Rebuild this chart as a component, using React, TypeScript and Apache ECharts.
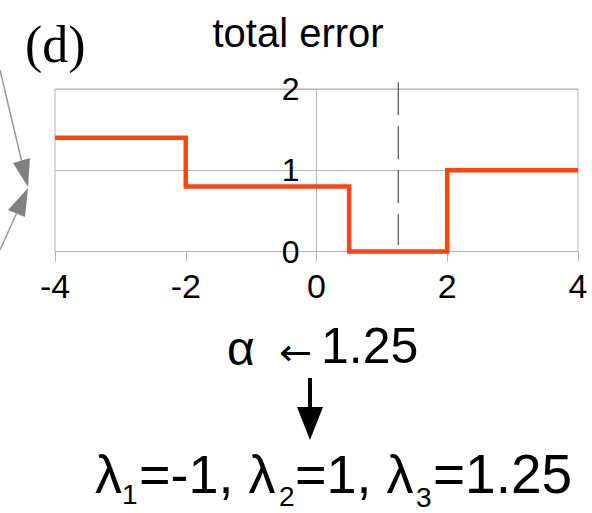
import { useEffect, useRef } from "react";
import * as echarts from "echarts";

// Piecewise-constant total error as a function of alpha
const breakpoints = [-4, -2, 0.5, 2, 4];
const errorLevels = [1.4, 0.8, 0, 1, 1];
const alphaRange = [-4, 4];
const errorRange = [0, 2];
const chosenAlpha = 1.25;
const lambdas = [-1, 1, 1.25];
const chartTitle = "total error";
const panelTag = "(d)";

const SANS = "'Liberation Sans', Arial, sans-serif";
const SERIF = "'Liberation Serif', 'Times New Roman', serif";
const ARROW_FONT = "'DejaVu Sans', sans-serif";
const AXIS_GRAY = "#b4b4b4";

const GRID_LEFT = 55;
const GRID_TOP = 89;
const GRID_W = 523;
const GRID_H = 162.5;

function txt(text: string, x: number, y: number, size: number, family = SANS, align = "left", scaleX = 1) {
  return {
    type: "text",
    x,
    y,
    scaleX,
    silent: true,
    style: {
      text,
      fontSize: size,
      fontFamily: family,
      fill: "#000",
      align,
      textAlign: align,
      verticalAlign: "middle",
      textVerticalAlign: "middle",
    },
  };
}

export default function App() {
  const ref = useRef<HTMLDivElement>(null);

  useEffect(() => {
    const chart = echarts.init(ref.current!, null, { renderer: "svg" });
    const stepData = breakpoints.map((x, i) => [x, errorLevels[i]]);
    // shift the y axis (line and labels) inward so it sits at alpha = 0
    const yAxisOffset = -((0 - alphaRange[0]) / (alphaRange[1] - alphaRange[0])) * GRID_W;

    const graphics: any[] = [
      txt(panelTag, 25, 44.5, 52, SERIF),
      txt(chartTitle, 298, 33, 40, SANS, "center"),
      // incoming gray arrows on the left
      { type: "line", silent: true, shape: { x1: 0, y1: 70, x2: 21.5, y2: 160.5 }, style: { stroke: "#9a9a9a", lineWidth: 1.5 } },
      { type: "polygon", silent: true, shape: { points: [[13, 163], [30, 158], [28, 187]] }, style: { fill: "#808080" } },
      { type: "line", silent: true, shape: { x1: 0, y1: 250, x2: 16.5, y2: 213.5 }, style: { stroke: "#9a9a9a", lineWidth: 1.5 } },
      { type: "polygon", silent: true, shape: { points: [[8, 210], [25, 217], [28, 188]] }, style: { fill: "#808080" } },
      // assignment of alpha
      txt("α", 227, 348, 48),
      txt("←", 279, 353, 36, ARROW_FONT, "left", 1.1),
      txt(String(chosenAlpha), 321, 346, 50),
      // down arrow
      { type: "line", silent: true, shape: { x1: 310, y1: 378, x2: 310, y2: 410 }, style: { stroke: "#000", lineWidth: 4 } },
      { type: "polygon", silent: true, shape: { points: [[297, 407], [323, 407], [310, 440]] }, style: { fill: "#000" } },
      // resulting lambdas
      txt("λ", 95, 474, 54),
      txt("1", 122, 494.5, 28),
      txt(`=${lambdas[0]}, λ`, 139, 474, 54),
      txt("2", 279, 496, 28),
      txt(`=${lambdas[1]}, λ`, 295, 474, 54),
      txt("3", 416, 497, 28),
      txt(`=${lambdas[2]}`, 433, 474, 55),
    ];

    chart.setOption({
      animation: false,
      grid: {
        left: GRID_LEFT,
        top: GRID_TOP,
        width: GRID_W,
        height: GRID_H,
        show: true,
        borderColor: AXIS_GRAY,
        borderWidth: 1,
        containLabel: false,
        outerBoundsMode: "none",
      },
      xAxis: {
        type: "value",
        min: alphaRange[0],
        max: alphaRange[1],
        interval: 2,
        axisLine: { show: true, onZero: false, lineStyle: { color: AXIS_GRAY, width: 1 } },
        axisTick: { show: true, length: 10, lineStyle: { color: AXIS_GRAY, width: 1 } },
        axisLabel: { fontSize: 34, fontFamily: SANS, color: "#000", margin: 17 },
        splitLine: { show: false },
      },
      yAxis: {
        type: "value",
        min: errorRange[0],
        max: errorRange[1],
        interval: 1,
        offset: yAxisOffset,
        axisLine: { show: true, onZero: false, lineStyle: { color: AXIS_GRAY, width: 1 } },
        axisTick: { show: false },
        axisLabel: { fontSize: 32, fontFamily: SANS, color: "#000", margin: 17 },
        splitLine: { show: true, lineStyle: { color: AXIS_GRAY, width: 1 } },
      },
      series: [
        {
          type: "line",
          step: "end",
          data: stepData,
          symbol: "none",
          clip: false,
          z: 5,
          lineStyle: { color: "#ff4411", width: 4.5, join: "miter", cap: "butt" },
        },
        {
          type: "line",
          data: [
            [chosenAlpha, 2.085],
            [chosenAlpha, 0.08],
          ],
          symbol: "none",
          clip: false,
          z: 4,
          lineStyle: { color: "#333", width: 1, type: [33, 11] },
        },
      ],
      graphic: graphics,
    });

    return () => chart.dispose();
  }, []);

  return (
    <div
      ref={ref}
      style={{ position: "absolute", left: 0, top: 0, width: 592, height: 513 }}
    />
  );
}
